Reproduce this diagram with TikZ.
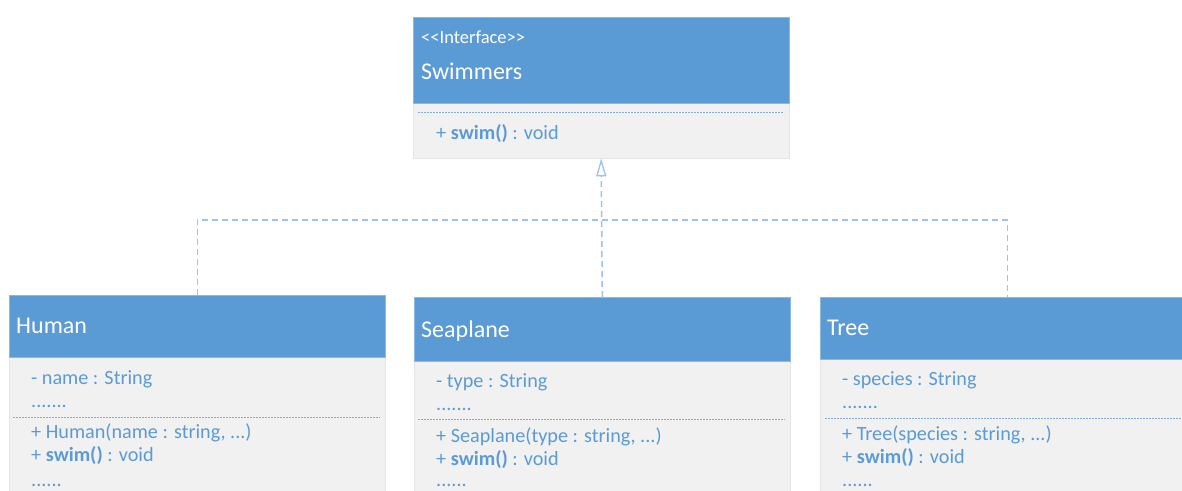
\documentclass[tikz,border=0pt]{standalone}
\usepackage{fontspec}
\setmainfont{Carlito}
\usetikzlibrary{arrows.meta}

\definecolor{umlblue}{HTML}{5B9BD5}
\definecolor{umlgray}{HTML}{F1F1F1}
\definecolor{umlline}{HTML}{9DC3E6}
\definecolor{umlsep}{HTML}{7FAEDC}

\tikzset{
  headbox/.style={fill=umlblue, draw=umlblue!70!white, line width=0.6pt, inner sep=0pt, anchor=north west},
  bodybox/.style={fill=umlgray, draw=umlgray!95!black, line width=0.3pt, inner sep=0pt, anchor=north west},
  title/.style={anchor=base west, inner sep=0pt, text=white, font=\fontsize{24}{27}\selectfont},
  stereo/.style={anchor=base west, inner sep=0pt, text=white, font=\fontsize{18.5}{21}\selectfont},
  member/.style={anchor=base west, inner sep=0pt, text=umlblue, font=\fontsize{20.2}{23}\selectfont},
  sepline/.style={umlsep, line width=0.6pt, dash pattern=on 2pt off 1pt},
  realize/.style={umlline, line width=1.5pt, dash pattern=on 6pt off 4pt},
}

\begin{document}
\begin{tikzpicture}[x=1pt, y=-1pt]
\useasboundingbox (0,0) rectangle (1182,490);
\clip (0,0) rectangle (1182,490);
\fill[white] (0,0) rectangle (1182,490);

% interface Swimmers
\node[bodybox, minimum width=376pt, minimum height=56pt] (ifB) at (413,102) {};
\node[headbox, minimum width=376pt, minimum height=86pt] (ifH) at (413,17) {};
\node[stereo] (ifS) at (421,43) {{<}{<}Interface{>}{>}};
\node[title] (ifT) at (421,79) {Swimmers};
\draw[sepline] (418,112) -- (784,112);
\node[member] (ifM) at (436,139) {+ \textbf{swim()} : void};

% class Human
\node[bodybox, minimum width=376pt, minimum height=140pt] (huB) at (9,357) {};
\node[headbox, minimum width=376pt, minimum height=62pt] (huH) at (9,295) {};
\node[title] (huT) at (16,333) {Human};
\node[member] (huA) at (31,384) {- name : String};
\node[member] (huD) at (31,407) {.......};
\draw[sepline] (13,417) -- (380,417);
\node[member] (huC) at (31,438) {+ Human(name : string, ...)};
\node[member] (huM) at (31,461) {+ \textbf{swim()} : void};
\node[member] (huE) at (31,486) {......};

% class Seaplane
\node[bodybox, minimum width=376pt, minimum height=140pt] (spB) at (414,361) {};
\node[headbox, minimum width=376pt, minimum height=64pt] (spH) at (414,297) {};
\node[title] (spT) at (421,337) {Seaplane};
\node[member] (spA) at (436,387) {- type : String};
\node[member] (spD) at (436,410) {.......};
\draw[sepline] (418,419) -- (785,419);
\node[member] (spC) at (436,442) {+ Seaplane(type : string, ...)};
\node[member] (spM) at (436,465) {+ \textbf{swim()} : void};
\node[member] (spE) at (436,486) {......};

% class Tree
\node[bodybox, minimum width=374pt, minimum height=140pt] (trB) at (820,359) {};
\node[headbox, minimum width=374pt, minimum height=62pt] (trH) at (820,297) {};
\node[title] (trT) at (827,335) {Tree};
\node[member] (trA) at (842,385) {- species : String};
\node[member] (trD) at (842,408) {.......};
\draw[sepline] (825,418) -- (1182,418);
\node[member] (trC) at (842,440) {+ Tree(species : string, ...)};
\node[member] (trM) at (842,463) {+ \textbf{swim()} : void};
\node[member] (trE) at (842,486) {......};

% realization connectors
\coordinate (bus) at (601,220);
\draw[realize] (huH.north) |- (bus) -| (trH.north);
\draw[realize, -{Triangle[open, length=18pt, width=10pt, line width=1.3pt]}]
  (spH.north) -- (ifB.south);
\end{tikzpicture}
\end{document}
